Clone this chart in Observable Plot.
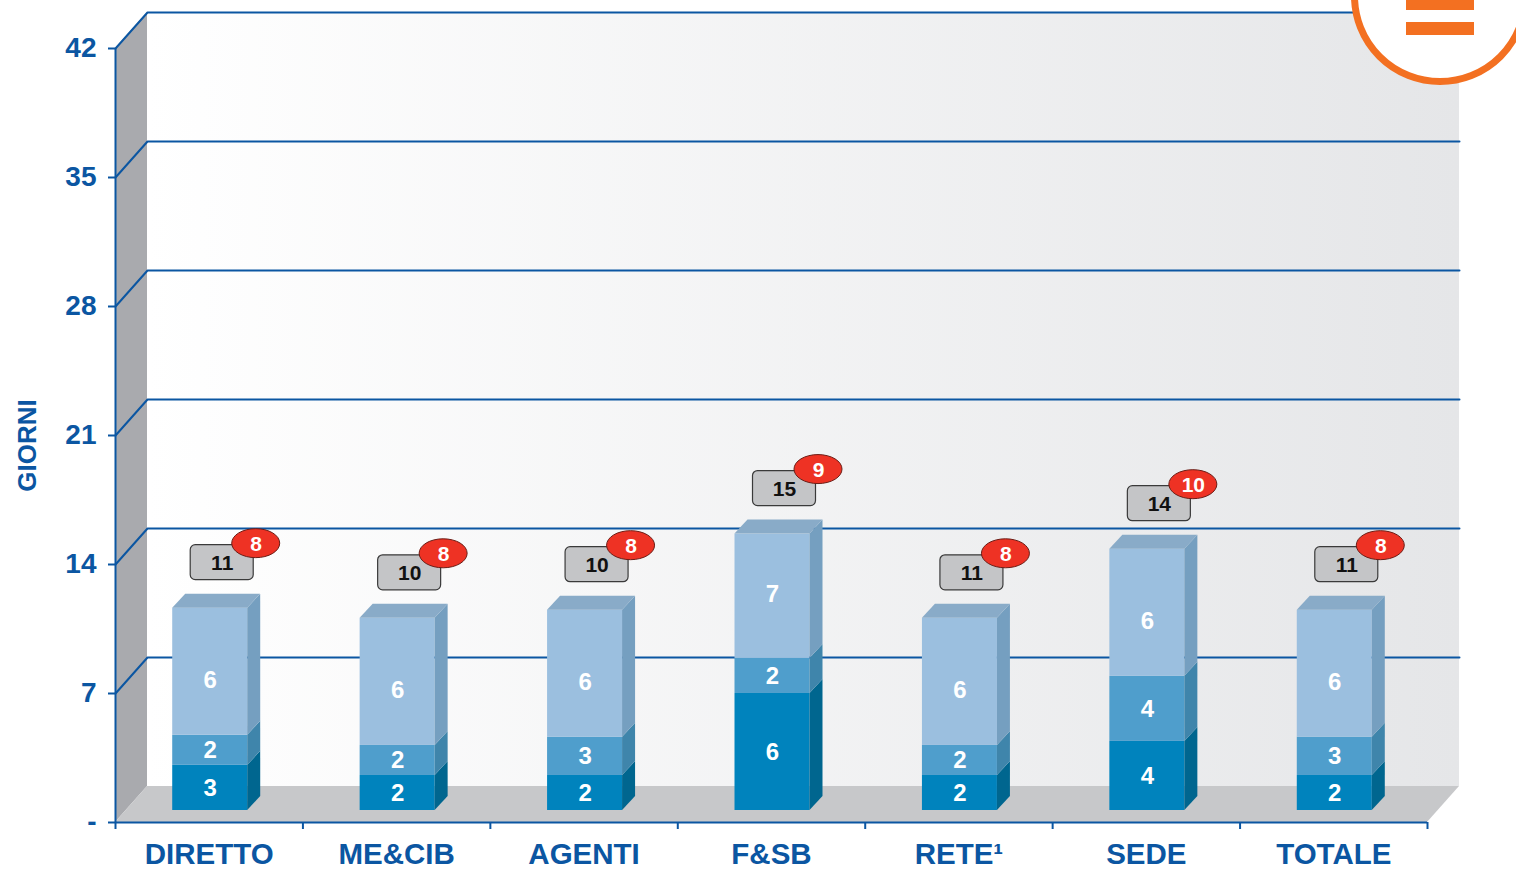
<!DOCTYPE html>
<html><head><meta charset="utf-8">
<script src="https://cdn.jsdelivr.net/npm/d3@7"></script>
<script src="https://cdn.jsdelivr.net/npm/@observablehq/plot@0.6"></script>
<style>
html,body{margin:0;padding:0;background:#fff;overflow:hidden}
#chart{position:relative;width:1516px;height:871px}
</style></head><body><div id="chart"></div>
<script>
// ---- data ----
const categories = ["DIRETTO","ME&CIB","AGENTI","F&SB","RETE¹","SEDE","TOTALE"];
const lowValues  = [2.45, 1.9, 1.9, 6.35, 1.9, 3.75, 1.9];
const midValues  = [1.63, 1.63, 2.07, 1.9, 1.63, 3.53, 2.07];
const highValues = [6.9, 6.9, 6.9, 6.75, 6.9, 6.9, 6.9];
const lowLabels  = [3, 2, 2, 6, 2, 4, 2];
const midLabels  = [2, 2, 3, 2, 2, 4, 3];
const highLabels = [6, 6, 6, 7, 6, 6, 6];
const totalLabels = [11, 10, 10, 15, 11, 14, 11];
const badgeLabels = [8, 8, 8, 9, 8, 10, 8];
const yTicks = [0, 7, 14, 21, 28, 35, 42];
const yTickLabels = ["-", "7", "14", "21", "28", "35", "42"];
const yAxisTitle = "GIORNI";

// ---- layout / style ----
const W = 1516, H = 871, ML = 115, MR = 89, MT = 48, MB = 49;
const N = categories.length, YMAX = 42;
const PXX = (W - ML - MR) / N, PXY = (H - MT - MB) / YMAX;
const ux = px => px / PXX, uy = px => px / PXY;
const WALL_DX = ux(32), WALL_DY = uy(36);
const BAR_HALF = ux(37.5), BAR_SX = ux(1), BAR_SY = uy(12);
const DEPTH_X = ux(13), DEPTH_Y = uy(14);
const BLUE = "#0b56a2";
const FRONT = ["#0083bd", "#4f9ecc", "#9bbfdf"];
const SIDE = ["#00668f", "#3f85ab", "#759fc0"];
const TOPC = "#89abc8";
const FONT = "'Liberation Sans', Arial, Helvetica, sans-serif";

// ---- derived tables ----
const segments = [];
const sides = [];
const tops = [];
const heads = [];
categories.forEach((c, i) => {
  const vals = [lowValues[i], midValues[i], highValues[i]];
  const labs = [lowLabels[i], midLabels[i], highLabels[i]];
  const xl = i + 0.5 - BAR_HALF + BAR_SX, xr = i + 0.5 + BAR_HALF + BAR_SX;
  let b = 0;
  vals.forEach((v, s) => {
    const t = b + v;
    const ly = (s === 2 ? b + labs[s] / 2 : b + v / 2) + BAR_SY;
    segments.push({i, s, x1: xl, x2: xr, y1: b + BAR_SY, y2: t + BAR_SY,
      ly, label: labs[s], fill: FRONT[s]});
    const id = i * 10 + s;
    sides.push({id, x: xr, y1: b + BAR_SY, y2: t + BAR_SY, fill: SIDE[s]});
    sides.push({id, x: xr + DEPTH_X, y1: b + BAR_SY + DEPTH_Y, y2: t + BAR_SY + DEPTH_Y, fill: SIDE[s]});
    b = t;
  });
  const T = b + BAR_SY;
  tops.push({id: i, x: xl, y1: T, y2: T});
  tops.push({id: i, x: xl + DEPTH_X, y1: T, y2: T + DEPTH_Y});
  tops.push({id: i, x: xr, y1: T, y2: T + DEPTH_Y});
  tops.push({id: i, x: xr + DEPTH_X, y1: T + DEPTH_Y, y2: T + DEPTH_Y});
  heads.push({x: i + 0.5 + BAR_SX, y: b, total: totalLabels[i], badge: badgeLabels[i]});
});

const grid = [];
yTicks.filter(t => t > 0).forEach(t => {
  grid.push({t, x: 0, y: t});
  grid.push({t, x: WALL_DX, y: t + WALL_DY});
  grid.push({t, x: N + WALL_DX, y: t + WALL_DY});
});
const backWall = [{x1: WALL_DX, x2: N + WALL_DX, y1: WALL_DY, y2: YMAX + WALL_DY}];
const leftWall = [{x: 0, y1: 0, y2: YMAX}, {x: WALL_DX, y1: WALL_DY, y2: YMAX + WALL_DY}];
const floor = [
  {x: 0, y1: 0, y2: 0},
  {x: WALL_DX, y1: 0, y2: WALL_DY},
  {x: N, y1: 0, y2: WALL_DY},
  {x: N + WALL_DX, y1: WALL_DY, y2: WALL_DY}
];

const plot = Plot.plot({
  width: W, height: H,
  marginLeft: ML, marginRight: MR, marginTop: MT, marginBottom: MB,
  x: {type: "linear", domain: [0, N]},
  y: {type: "linear", domain: [0, YMAX]},
  color: {type: "identity"},
  style: {fontFamily: FONT, color: BLUE, background: "transparent", overflow: "visible"},
  marks: [
    Plot.rect(backWall, {x1: "x1", x2: "x2", y1: "y1", y2: "y2", fill: "url(#wallGrad)"}),
    Plot.area(leftWall, {x1: "x", y1: "y1", y2: "y2", fill: "#a9aaae", curve: "linear"}),
    Plot.area(floor, {x1: "x", y1: "y1", y2: "y2", fill: "#c7c8ca", curve: "linear"}),
    Plot.line(grid, {x: "x", y: "y", z: "t", stroke: BLUE, strokeWidth: 2, curve: "linear"}),
    Plot.ruleX([0], {y1: 0, y2: YMAX, stroke: BLUE, strokeWidth: 2}),
    Plot.ruleY([0], {x1: 0, x2: N, stroke: BLUE, strokeWidth: 2}),
    Plot.axisY({ticks: yTicks, tickFormat: d => yTickLabels[yTicks.indexOf(d)], tickSize: 7, tickPadding: 12,
      stroke: BLUE, fill: BLUE, strokeWidth: 2, fontSize: 28, fontWeight: "bold", label: null}),
    Plot.axisX({ticks: d3.range(N + 1), tickFormat: () => "", tickSize: 7, stroke: BLUE, strokeWidth: 2, label: null}),
    Plot.text(categories, {x: (d, i) => i + 0.5, y: () => 0, dy: 32, text: d => d, fill: BLUE,
      fontSize: 29.5, fontWeight: "bold", textAnchor: "middle", lineAnchor: "middle"}),
    Plot.text([yAxisTitle], {frameAnchor: "left", dx: -88, dy: 10, rotate: -90, text: d => d, fill: BLUE,
      fontSize: 26, fontWeight: "bold", textAnchor: "middle", lineAnchor: "middle"}),
    // bars
    Plot.rect(segments, {x1: "x1", x2: "x2", y1: "y1", y2: "y2", fill: "fill"}),
    Plot.area(sides, {x1: "x", y1: "y1", y2: "y2", z: "id", fill: "fill", curve: "linear"}),
    Plot.area(tops, {x1: "x", y1: "y1", y2: "y2", z: "id", fill: TOPC, curve: "linear"}),
    Plot.text(segments, {x: d => (d.x1 + d.x2) / 2, y: "ly", text: "label", fill: "white",
      fontSize: 24, fontWeight: "bold", textAnchor: "middle", lineAnchor: "middle"}),
    // total boxes and badges
    Plot.rect(heads, {x1: "x", x2: "x", y1: "y", y2: "y", dx: 12, dy: -57.5,
      insetLeft: -31.5, insetRight: -31.5, insetTop: -17.5, insetBottom: -17.5,
      rx: 5, fill: "#c4c5c7", stroke: "#3a3a3a", strokeWidth: 1.2}),
    Plot.text(heads, {x: "x", y: "y", dx: 12, dy: -57, text: "total", fill: "#111",
      fontSize: 21, fontWeight: "bold", textAnchor: "middle", lineAnchor: "middle"}),
    Plot.rect(heads, {x1: "x", x2: "x", y1: "y", y2: "y", dx: 46, dy: -76.5,
      insetLeft: -24, insetRight: -24, insetTop: -14.5, insetBottom: -14.5,
      rx: 24, ry: 14.5, fill: "#ee3224", stroke: "#6b1d16", strokeWidth: 1}),
    Plot.text(heads, {x: "x", y: "y", dx: 46, dy: -76, text: "badge", fill: "white",
      fontSize: 21, fontWeight: "bold", textAnchor: "middle", lineAnchor: "middle"})
  ]
});

const svg = d3.select(plot);
const defs = svg.insert("defs", ":first-child");
const grad = defs.append("linearGradient").attr("id", "wallGrad")
  .attr("x1", "0").attr("x2", "1").attr("y1", "0").attr("y2", "0");
grad.append("stop").attr("offset", "0").attr("stop-color", "#ffffff");
grad.append("stop").attr("offset", "1").attr("stop-color", "#e5e6e8");

// decorative corner emblem
const emb = svg.append("g");
emb.append("circle").attr("cx", 1440).attr("cy", -4).attr("r", 85.5)
  .attr("fill", "#fff").attr("stroke", "#f37021").attr("stroke-width", 7);
emb.append("rect").attr("x", 1406).attr("y", -3).attr("width", 68).attr("height", 13).attr("fill", "#f37021");
emb.append("rect").attr("x", 1406).attr("y", 22).attr("width", 68).attr("height", 13).attr("fill", "#f37021");

document.getElementById("chart").appendChild(plot);
</script>
</body></html>
